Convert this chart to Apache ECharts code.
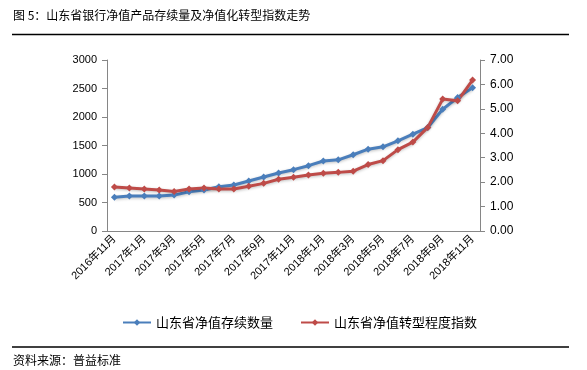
<!DOCTYPE html>
<html><head><meta charset="utf-8">
<script src="https://cdn.jsdelivr.net/npm/echarts@6/dist/echarts.min.js"></script>
<style>html,body{margin:0;padding:0;background:#fff}#c{width:587px;height:370px}</style>
</head><body><div id="c"></div>
<script>
const categories = ['2016年11月','2016年12月','2017年1月','2017年2月','2017年3月','2017年4月','2017年5月','2017年6月','2017年7月','2017年8月','2017年9月','2017年10月','2017年11月','2017年12月','2018年1月','2018年2月','2018年3月','2018年4月','2018年5月','2018年6月','2018年7月','2018年8月','2018年9月','2018年10月','2018年11月'];
const countValues = [591,612,612,614,630,690,719,775,807,877,947,1018,1076,1146,1228,1248,1338,1436,1477,1582,1698,1815,2136,2340,2515];
const indexValues = [1.80,1.76,1.72,1.68,1.62,1.72,1.76,1.72,1.72,1.83,1.95,2.12,2.20,2.29,2.36,2.40,2.45,2.72,2.88,3.33,3.64,4.24,5.40,5.33,6.18];
const leftTicks = [0,500,1000,1500,2000,2500,3000];
const rightTicks = [0,1,2,3,4,5,6,7];
const seriesNames = ['山东省净值存续数量','山东省净值转型程度指数'];
const titleText = '图 5：山东省银行净值产品存续量及净值化转型指数走势';
const sourceText = '资料来源：普益标准';
</script>
<script>
const chart = echarts.init(document.getElementById('c'));
const font = '"Noto Sans CJK SC", sans-serif';
const axisColor = '#868686';
chart.setOption({
  animation: false,
  textStyle: {fontFamily: font},
  grid: {left: 107, right: 107, top: 60, bottom: 139, containLabel: false},
  graphic: [
    {type: 'text', left: 13, top: 9, style: {text: titleText, font: '12px ' + font, fill: '#000'}},
    {type: 'line', shape: {x1: 12, y1: 34.5, x2: 569, y2: 34.5}, style: {stroke: '#000', lineWidth: 1.5}},
    {type: 'line', shape: {x1: 12, y1: 347, x2: 569, y2: 347}, style: {stroke: '#000', lineWidth: 1.5}},
    {type: 'text', left: 13, top: 354, style: {text: sourceText, font: '12px ' + font, fill: '#000'}}
  ],
  legend: {
    top: 311, left: 117, itemWidth: 28, itemHeight: 8, itemGap: 27,
    textStyle: {fontSize: 13, color: '#000', fontFamily: font},
    data: seriesNames
  },
  xAxis: {
    type: 'category', data: categories, boundaryGap: true,
    axisLine: {lineStyle: {color: axisColor}},
    axisTick: {interval: 1, length: 5, lineStyle: {color: axisColor}},
    axisLabel: {interval: 1, rotate: 45, fontSize: 11, color: '#000', margin: 6, fontFamily: 'Liberation Sans, ' + font}
  },
  yAxis: [
    {type: 'value', min: leftTicks[0], max: leftTicks[leftTicks.length - 1], interval: leftTicks[1] - leftTicks[0],
     axisLine: {show: true, lineStyle: {color: axisColor}},
     axisTick: {show: true, length: 5, lineStyle: {color: axisColor}},
     splitLine: {show: false},
     axisLabel: {fontSize: 11, color: '#000', margin: 10, fontFamily: 'Liberation Sans, sans-serif', formatter: v => String(v)}},
    {type: 'value', min: rightTicks[0], max: rightTicks[rightTicks.length - 1], interval: rightTicks[1] - rightTicks[0],
     axisLine: {show: true, lineStyle: {color: axisColor}},
     axisTick: {show: true, length: 5, lineStyle: {color: axisColor}},
     splitLine: {show: false},
     axisLabel: {fontSize: 12, color: '#000', margin: 10, fontFamily: 'Liberation Sans, sans-serif', formatter: v => v.toFixed(2)}}
  ],
  series: [
    {name: seriesNames[0], type: 'line', yAxisIndex: 0, data: countValues,
     symbol: 'diamond', symbolSize: 7,
     lineStyle: {color: '#4A7EBB', width: 3, shadowColor: 'rgba(0,0,0,0.25)', shadowBlur: 3, shadowOffsetY: 1},
     itemStyle: {color: '#4A7EBB'}},
    {name: seriesNames[1], type: 'line', yAxisIndex: 1, data: indexValues,
     symbol: 'diamond', symbolSize: 7,
     lineStyle: {color: '#BE4B48', width: 3, shadowColor: 'rgba(0,0,0,0.25)', shadowBlur: 3, shadowOffsetY: 1},
     itemStyle: {color: '#BE4B48'}}
  ]
});
</script>
</body></html>
